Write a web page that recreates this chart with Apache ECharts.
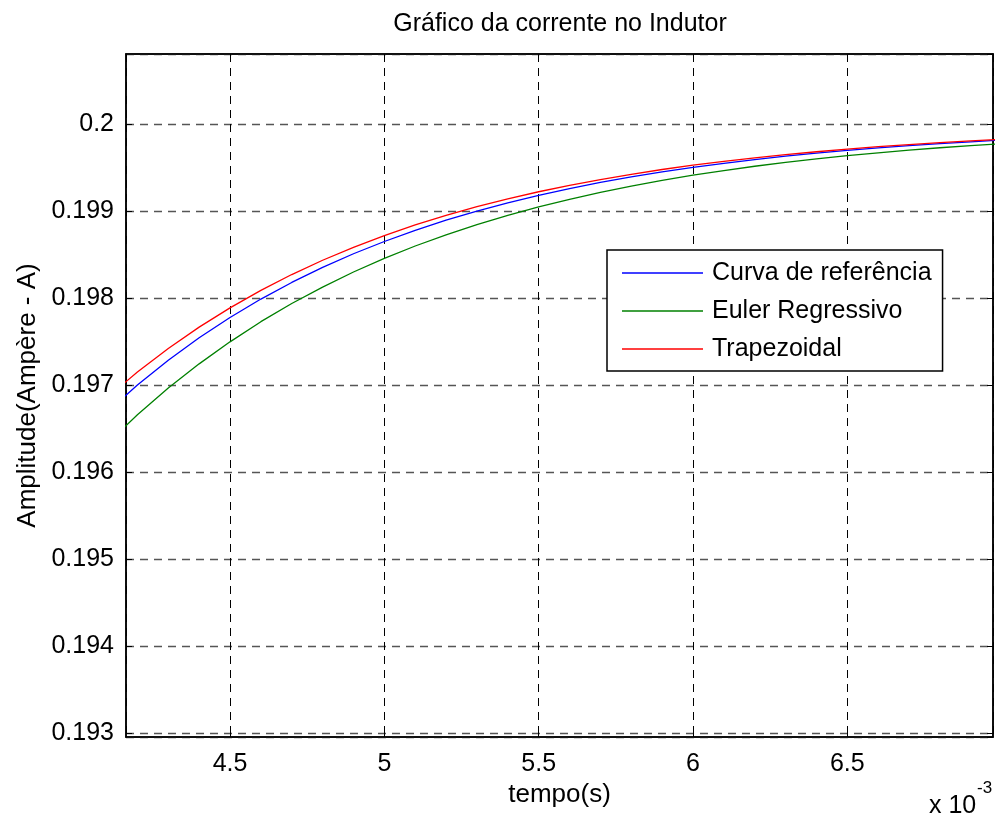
<!DOCTYPE html>
<html>
<head>
<meta charset="utf-8">
<script src="https://cdn.jsdelivr.net/npm/echarts@6/dist/echarts.min.js"></script>
<style>
  html, body { margin: 0; padding: 0; background: #fff; }
  #chart { width: 996px; height: 821px; }
</style>
</head>
<body>
<div id="chart"></div>
<script>
// tempo em milissegundos (o eixo mostra x 10^-3)
const tempo = [4.1, 4.2, 4.3, 4.4, 4.5, 4.6, 4.7, 4.8, 4.9, 5.0,
               5.1, 5.2, 5.3, 5.4, 5.5, 5.6, 5.7, 5.8, 5.9, 6.0,
               6.1, 6.2, 6.3, 6.4, 6.5, 6.6, 6.7, 6.8, 6.9, 7.0];

const curvaReferencia = [0.196685, 0.197001, 0.197286, 0.197545, 0.197778, 0.197990, 0.198181, 0.198354, 0.198511, 0.198652,
                         0.198781, 0.198897, 0.199002, 0.199097, 0.199183, 0.199260, 0.199331, 0.199394, 0.199452, 0.199504,
                         0.199551, 0.199594, 0.199633, 0.199668, 0.199699, 0.199728, 0.199754, 0.199777, 0.199798, 0.199818];

const eulerRegressivo = [0.196321, 0.196659, 0.196966, 0.197245, 0.197498, 0.197730, 0.197939, 0.198128, 0.198301, 0.198458,
                         0.198600, 0.198729, 0.198846, 0.198952, 0.199050, 0.199137, 0.199217, 0.199289, 0.199354, 0.199414,
                         0.199468, 0.199517, 0.199562, 0.199602, 0.199639, 0.199672, 0.199702, 0.199730, 0.199755, 0.199777];

const trapezoidal = [0.196851, 0.197151, 0.197422, 0.197667, 0.197889, 0.198090, 0.198272, 0.198436, 0.198585, 0.198720,
                     0.198842, 0.198952, 0.199052, 0.199142, 0.199224, 0.199297, 0.199364, 0.199425, 0.199480, 0.199529,
                     0.199574, 0.199614, 0.199651, 0.199684, 0.199714, 0.199742, 0.199766, 0.199788, 0.199808, 0.199827];

const nomes = ['Curva de referência', 'Euler Regressivo', 'Trapezoidal'];
const cores = ['#0000ff', '#008000', '#ff0000'];

const pares = (ys) => tempo.map((t, i) => [t, ys[i]]);
const FONTE = '"Liberation Sans", Arial, Helvetica, sans-serif';

const gradeX = { show: true, lineStyle: { color: '#000', width: 1, type: [8, 6] } };
const gradeY = { show: true, lineStyle: { color: '#555', width: 1.3, type: [8, 6] } };

const chart = echarts.init(document.getElementById('chart'), null, { renderer: 'canvas' });
chart.setOption({
  animation: false,
  backgroundColor: '#fff',
  textStyle: { fontFamily: FONTE },
  title: {
    text: 'Gráfico da corrente no Indutor',
    left: 555, top: 7, textAlign: 'center',
    textStyle: { fontFamily: FONTE, fontSize: 25, fontWeight: 'normal', color: '#000' }
  },
  grid: {
    left: 126, right: 3, top: 54, bottom: 84,
    show: true, borderColor: '#000', borderWidth: 1.5, backgroundColor: '#fff'
  },
  legend: {
    orient: 'vertical',
    left: 607, top: 250,
    data: nomes,
    icon: 'rect',
    itemWidth: 81, itemHeight: 1.5, itemGap: 10,
    padding: [9, 11, 8, 15],
    backgroundColor: '#fff', borderColor: '#000', borderWidth: 1.5,
    textStyle: { fontFamily: FONTE, fontSize: 25, color: '#000', lineHeight: 28, padding: [0, 0, 0, 4] }
  },
  xAxis: [{
    type: 'value', min: 4.163, max: 6.972, splitNumber: 5,
    name: 'tempo(s)', nameLocation: 'middle', nameGap: 44,
    nameTextStyle: { fontFamily: FONTE, fontSize: 26, color: '#000' },
    axisLine: { show: true, onZero: false, lineStyle: { color: '#000', width: 1.5 } },
    axisTick: { show: true, inside: true, length: 6, lineStyle: { color: '#000' } },
    axisLabel: { showMinLabel: false, showMaxLabel: false, margin: 15, fontSize: 25, color: '#000', fontFamily: FONTE,
                 formatter: v => String(+v.toFixed(1)) },
    splitLine: gradeX
  }, {
    type: 'value', position: 'top', min: 4.163, max: 6.972, splitNumber: 5,
    axisLine: { show: true, onZero: false, lineStyle: { color: '#000', width: 1.5 } },
    axisTick: { show: true, inside: true, length: 6, lineStyle: { color: '#000' } },
    axisLabel: { show: false }, splitLine: { show: false }
  }],
  yAxis: [{
    type: 'value', min: 0.192954, max: 0.200808, splitNumber: 8,
    name: 'Amplitude(Ampère - A)', nameLocation: 'middle', nameGap: 85,
    nameTextStyle: { fontFamily: FONTE, fontSize: 26, color: '#000' },
    axisLine: { show: true, onZero: false, lineStyle: { color: '#000', width: 1.5 } },
    axisTick: { show: true, inside: true, length: 6, lineStyle: { color: '#000' } },
    axisLabel: { showMinLabel: false, showMaxLabel: false, margin: 12, fontSize: 25, color: '#000', fontFamily: FONTE,
                 formatter: v => String(+v.toFixed(3)) },
    splitLine: gradeY
  }, {
    type: 'value', position: 'right', min: 0.192954, max: 0.200808, splitNumber: 8,
    axisLine: { show: true, onZero: false, lineStyle: { color: '#000', width: 1.5 } },
    axisTick: { show: true, inside: true, length: 6, lineStyle: { color: '#000' } },
    axisLabel: { show: false }, splitLine: { show: false }
  }],
  graphic: [
    { type: 'text', left: 929, top: 794, style: { text: 'x 10', fontFamily: FONTE, fontSize: 25, fill: '#000' } },
    { type: 'text', left: 977, top: 780, style: { text: '-3', fontFamily: FONTE, fontSize: 17, fill: '#000' } }
  ],
  series: nomes.map((nome, k) => ({
    name: nome,
    type: 'line',
    data: pares([curvaReferencia, eulerRegressivo, trapezoidal][k]),
    showSymbol: false, symbol: 'none',
    clip: true,
    lineStyle: { color: cores[k], width: 1.3 },
    itemStyle: { color: cores[k] },
    z: 3
  }))
});
</script>
</body>
</html>
